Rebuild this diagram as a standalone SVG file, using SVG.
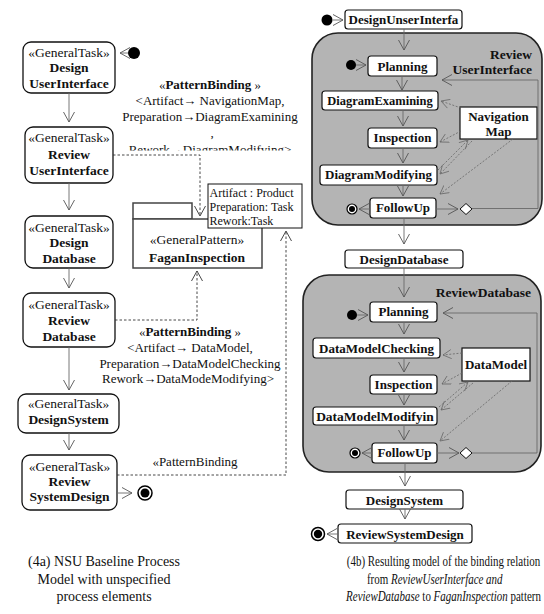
<svg xmlns="http://www.w3.org/2000/svg" width="544" height="614" viewBox="0 0 544 614">
  <style>
    text { font-family: "Liberation Serif", "Times New Roman", "DejaVu Serif", serif; fill: #111; }
    .st { font-size: 13.5px; text-anchor: middle; }
    .nm { font-size: 13.5px; font-weight: bold; text-anchor: middle; }
    .rl { font-size: 13.5px; font-weight: bold; text-anchor: end; }
    .rb { font-size: 13px; font-weight: bold; text-anchor: middle; }
    .lbl { font-size: 13px; text-anchor: middle; }
    .par { font-size: 12px; }
    .cap { font-size: 14px; text-anchor: middle; }
    .capb { font-size: 15px; text-anchor: middle; }
    .task { fill: #fff; stroke: #111; stroke-width: 1.3; }
    .act { fill: #fff; stroke: #111; stroke-width: 1.2; }
    .cont { fill: #b4b4b4; stroke: #222; stroke-width: 1.6; }
    .flow { fill: none; stroke: #6a6a6a; stroke-width: 0.9; marker-end: url(#arr); }
    .bind { fill: none; stroke: #333; stroke-width: 0.9; stroke-dasharray: 2.5 2; marker-end: url(#arrd); }
    .data { fill: none; stroke: #666; stroke-width: 0.8; stroke-dasharray: 2 1.6; marker-end: url(#arrs); }
  </style>
  <defs>
    <marker id="arr" viewBox="0 0 10 12" refX="10" refY="6" markerWidth="10" markerHeight="12" markerUnits="userSpaceOnUse" orient="auto">
      <path d="M0,0.5 L10,6 L0,11.5" fill="none" stroke="#555" stroke-width="0.9"/>
    </marker>
    <marker id="arrd" viewBox="0 0 10 12" refX="10" refY="6" markerWidth="10" markerHeight="12" markerUnits="userSpaceOnUse" orient="auto">
      <path d="M0,0.5 L10,6 L0,11.5" fill="none" stroke="#333" stroke-width="0.9"/>
    </marker>
    <marker id="arrs" viewBox="0 0 10 12" refX="10" refY="6" markerWidth="9" markerHeight="10" markerUnits="userSpaceOnUse" orient="auto">
      <path d="M0,0.5 L10,6 L0,11.5" fill="none" stroke="#666" stroke-width="0.9"/>
    </marker>
    <clipPath id="cut">
      <rect x="100" y="0" width="220" height="150.5"/>
    </clipPath>
  </defs>

  <!-- (4a) baseline process model -->
  <g id="start-a"><circle cx="134" cy="53" r="6" fill="#000"/></g>
  <g id="design-ui">
    <rect class="task" x="23" y="42" width="92" height="51" rx="8"/>
    <text class="st" x="69" y="57">«GeneralTask»</text>
    <text class="nm" x="69" y="72">Design</text>
    <text class="nm" x="69" y="88">UserInterface</text>
  </g>
  <g id="review-ui">
    <rect class="task" x="25" y="127" width="88" height="56" rx="8"/>
    <text class="st" x="69" y="142">«GeneralTask»</text>
    <text class="nm" x="69" y="159">Review</text>
    <text class="nm" x="69" y="175">UserInterface</text>
  </g>
  <g id="design-db">
    <rect class="task" x="25" y="216" width="88" height="52" rx="8"/>
    <text class="st" x="69" y="232">«GeneralTask»</text>
    <text class="nm" x="69" y="247">Design</text>
    <text class="nm" x="69" y="263">Database</text>
  </g>
  <g id="review-db">
    <rect class="task" x="23" y="293" width="92" height="54" rx="8"/>
    <text class="st" x="69" y="309">«GeneralTask»</text>
    <text class="nm" x="69" y="325">Review</text>
    <text class="nm" x="69" y="341">Database</text>
  </g>
  <g id="design-sys">
    <rect class="task" x="18" y="394" width="101" height="39" rx="8"/>
    <text class="st" x="68.5" y="408">«GeneralTask»</text>
    <text class="nm" x="68.5" y="424">DesignSystem</text>
  </g>
  <g id="review-sys">
    <rect class="task" x="22" y="455" width="95" height="55" rx="8"/>
    <text class="st" x="69.5" y="471">«GeneralTask»</text>
    <text class="nm" x="69.5" y="486">Review</text>
    <text class="nm" x="69.5" y="501">SystemDesign</text>
  </g>
  <g id="end-a">
    <circle cx="145" cy="493" r="7" fill="#fff" stroke="#000" stroke-width="1.5"/>
    <circle cx="145" cy="493" r="4.5" fill="#000"/>
  </g>

  <g id="fagan">
    <rect x="133" y="203" width="59" height="16" fill="#fff" stroke="#444" stroke-width="1.5"/>
    <rect x="133" y="219" width="129" height="49" fill="#fff" stroke="#444" stroke-width="1.5"/>
    <text class="st" x="197" y="244">«GeneralPattern»</text>
    <text class="nm" x="197" y="262">FaganInspection</text>
  </g>
  <g id="fagan-params">
    <rect x="208" y="184" width="94" height="44" fill="#fff" stroke="#111" stroke-width="1"/>
    <text class="par" x="209.5" y="197">Artifact : Product</text>
    <text class="par" x="209.5" y="211">Preparation: Task</text>
    <text class="par" x="209.5" y="225">Rework:Task</text>
  </g>

  <g id="binding-ui-label">
    <text class="lbl" x="210" y="89">«<tspan font-weight="bold">PatternBinding</tspan> »</text>
    <text class="lbl" x="210" y="105">&lt;Artifact→ NavigationMap,</text>
    <text class="lbl" x="210" y="121">Preparation→DiagramExamining</text>
    <text class="lbl" x="212" y="137">,</text>
    <text class="lbl" x="210" y="154" clip-path="url(#cut)">Rework→DiagramModifying&gt;</text>
  </g>
  <g id="binding-db-label">
    <text class="lbl" x="190" y="336">«<tspan font-weight="bold">PatternBinding</tspan> »</text>
    <text class="lbl" x="190" y="352">&lt;Artifact→ DataModel,</text>
    <text class="lbl" x="190" y="368">Preparation→DataModelChecking</text>
    <text class="lbl" x="188" y="383">Rework→DataModeModifying&gt;</text>
  </g>
  <g id="binding-sys-label">
    <text class="lbl" x="195" y="466">«PatternBinding</text>
  </g>

  <!-- (4b) resulting model -->
  <g id="review-ui-act">
    <rect class="cont" x="312" y="33" width="230" height="192" rx="26"/>
    <text class="rl" x="532" y="59">Review</text>
    <text class="rl" x="532" y="74">UserInterface</text>
  </g>
  <g id="review-db-act">
    <rect class="cont" x="303" y="275" width="238" height="197" rx="26"/>
    <text class="rl" x="531" y="297">ReviewDatabase</text>
  </g>

  <g id="start-b"><circle cx="327" cy="20" r="5.5" fill="#000"/></g>
  <g id="b-design-ui">
    <rect class="act" x="345" y="10" width="117" height="19" rx="3"/>
    <text class="rb" x="403.5" y="24">DesignUnserInterfa</text>
  </g>
  <g id="start-ui"><circle cx="351" cy="65" r="5" fill="#000"/></g>
  <g id="planning-ui">
    <rect class="act" x="368" y="56" width="69" height="20" rx="3"/>
    <text class="rb" x="402.5" y="70.5">Planning</text>
  </g>
  <g id="diag-exam">
    <rect class="act" x="322" y="91" width="116" height="19" rx="3"/>
    <text class="rb" x="380" y="105" style="font-size:12.5px">DiagramExamining</text>
  </g>
  <g id="inspection-ui">
    <rect class="act" x="368" y="128" width="69" height="20" rx="3"/>
    <text class="rb" x="402.5" y="142">Inspection</text>
  </g>
  <g id="diag-mod">
    <rect class="act" x="320" y="165" width="117" height="20" rx="3"/>
    <text class="rb" x="378.5" y="179">DiagramModifying</text>
  </g>
  <g id="followup-ui">
    <rect class="act" x="370" y="198" width="66" height="20" rx="3"/>
    <text class="rb" x="403" y="212">FollowUp</text>
  </g>
  <g id="end-ui">
    <circle cx="352" cy="209" r="5" fill="#fff" stroke="#000" stroke-width="1.2"/>
    <circle cx="352" cy="209" r="3" fill="#000"/>
  </g>
  <g id="merge-ui"><path d="M460,209 L466,203.5 L472,209 L466,214.5 Z" fill="#fff" stroke="#111" stroke-width="1"/></g>
  <g id="nav-map">
    <rect class="act" x="460" y="107" width="77" height="32"/>
    <text class="rb" x="498.5" y="121">Navigation</text>
    <text class="rb" x="498.5" y="136">Map</text>
  </g>

  <g id="b-design-db">
    <rect class="act" x="345" y="250" width="118" height="18" rx="3"/>
    <text class="rb" x="404" y="264">DesignDatabase</text>
  </g>
  <g id="start-db"><circle cx="352" cy="315" r="5" fill="#000"/></g>
  <g id="planning-db">
    <rect class="act" x="370" y="302" width="67" height="20" rx="3"/>
    <text class="rb" x="403.5" y="316">Planning</text>
  </g>
  <g id="dm-check">
    <rect class="act" x="313" y="338" width="127" height="20" rx="3"/>
    <text class="rb" x="376.5" y="352.5">DataModelChecking</text>
  </g>
  <g id="inspection-db">
    <rect class="act" x="370" y="375" width="67" height="19" rx="3"/>
    <text class="rb" x="403.5" y="389">Inspection</text>
  </g>
  <g id="dm-mod">
    <rect class="act" x="313" y="407" width="124" height="18" rx="3"/>
    <text class="rb" x="375" y="421" style="font-size:13.5px">DataModelModifyin</text>
  </g>
  <g id="followup-db">
    <rect class="act" x="372" y="443" width="65" height="20" rx="3"/>
    <text class="rb" x="404.5" y="457">FollowUp</text>
  </g>
  <g id="end-db">
    <circle cx="355" cy="453" r="5" fill="#fff" stroke="#000" stroke-width="1.2"/>
    <circle cx="355" cy="453" r="3" fill="#000"/>
  </g>
  <g id="merge-db"><path d="M460,453 L466,447.5 L472,453 L466,458.5 Z" fill="#fff" stroke="#111" stroke-width="1"/></g>
  <g id="data-model">
    <rect class="act" x="462" y="348" width="68" height="33"/>
    <text class="rb" x="496" y="369">DataModel</text>
  </g>

  <g id="b-design-sys">
    <rect class="act" x="346" y="490" width="117" height="19" rx="3"/>
    <text class="rb" x="404.5" y="504.5">DesignSystem</text>
  </g>
  <g id="b-review-sys">
    <rect class="act" x="338" y="524" width="134" height="19" rx="3"/>
    <text class="rb" x="405" y="538.5">ReviewSystemDesign</text>
  </g>
  <g id="end-b">
    <circle cx="318" cy="534" r="6.5" fill="#fff" stroke="#000" stroke-width="1.5"/>
    <circle cx="318" cy="534" r="4.2" fill="#000"/>
  </g>

  <g id="connectors">
    <!-- baseline control flow -->
    <path class="flow" d="M128,53 L120,53"/>
    <path class="flow" d="M69,93 L69,122"/>
    <path class="flow" d="M69,183 L69,210"/>
    <path class="flow" d="M69,268 L69,288"/>
    <path class="flow" d="M69,347 L69,390"/>
    <path class="flow" d="M69,433 L69,450"/>
    <path class="flow" d="M117,493 L132,493"/>
    <!-- pattern bindings -->
    <path class="bind" d="M113,155 L200,155 L200,216"/>
    <path class="bind" d="M115,320 L197,320 L197,271"/>
    <path class="bind" d="M117,475 L286,475 L286,231"/>
    <!-- resulting control flow -->
    <path class="flow" d="M333,20 L343,20"/>
    <path class="flow" d="M404,29 L404,50"/>
    <path class="flow" d="M356,65 L366,65"/>
    <path class="flow" d="M402,76 L402,90"/>
    <path class="flow" d="M403,110 L403,126"/>
    <path class="flow" d="M403,148 L403,163"/>
    <path class="flow" d="M403,185 L403,196"/>
    <path class="flow" d="M370,209 L359,209"/>
    <path class="flow" d="M436,209 L458,209"/>
    <path class="flow" d="M472,208.5 L538,208.5 L538,80 L442,80"/>
    <path class="flow" d="M404,218 L404,244"/>
    <path class="flow" d="M404,268 L404,297"/>
    <path class="flow" d="M357,315 L368,315"/>
    <path class="flow" d="M404,322 L404,334"/>
    <path class="flow" d="M404,358 L404,372"/>
    <path class="flow" d="M404,394 L404,405"/>
    <path class="flow" d="M404,425 L404,440"/>
    <path class="flow" d="M372,453 L362,453"/>
    <path class="flow" d="M437,453 L459,453"/>
    <path class="flow" d="M472,453 L537,453 L537,313 L443,313"/>
    <path class="flow" d="M405,463 L405,486"/>
    <path class="flow" d="M405,509 L405,519"/>
    <path class="flow" d="M338,534 L327,534"/>
    <!-- object flows -->
    <path class="data" d="M461,108 L441,101"/>
    <path class="data" d="M461,131 L440,142"/>
    <path class="data" d="M438,170 L468,140"/>
    <path class="data" d="M472,141 L440,174"/>
    <path class="data" d="M513,139 L440,194"/>
    <path class="data" d="M462,353 L443,355"/>
    <path class="data" d="M462,373 L442,384"/>
    <path class="data" d="M439,407 L468,382"/>
    <path class="data" d="M473,383 L441,410"/>
    <path class="data" d="M512,381 L440,441"/>
  </g>

  <g id="captions">
    <text class="cap" x="104" y="566">(4a) NSU Baseline Process</text>
    <text class="cap" x="104" y="584">Model with unspecified</text>
    <text class="cap" x="104" y="601">process elements</text>
    <!-- the (4b) caption is set condensed to fit under its column -->
    <g transform="translate(443.5,0) scale(0.73,1)">
      <text class="capb" x="0" y="566">(4b) Resulting model of the binding relation</text>
      <text class="capb" x="-12" y="584">from <tspan font-style="italic">ReviewUserInterface and</tspan></text>
      <text class="capb" x="0" y="601"><tspan font-style="italic">ReviewDatabase</tspan> to <tspan font-style="italic">FaganInspection</tspan> pattern</text>
    </g>
  </g>
</svg>
